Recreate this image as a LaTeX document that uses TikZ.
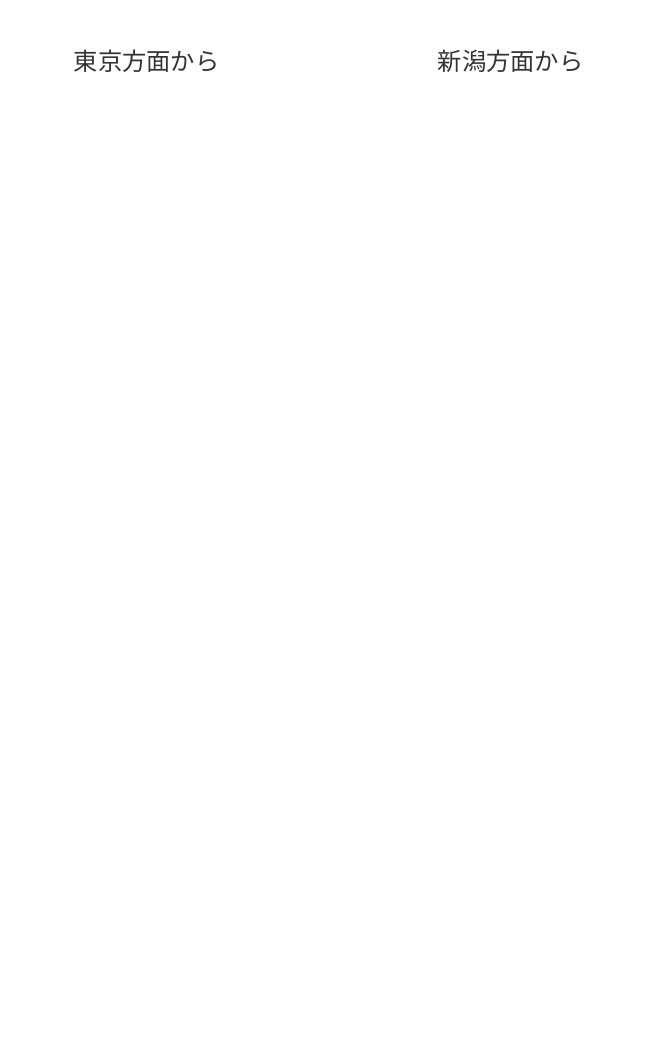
\documentclass[tikz,border=0pt]{standalone}
\usepackage{fontspec}
\newfontfamily\jpfont{Noto Sans CJK JP}[Scale=1]
\begin{document}
\begin{tikzpicture}[x=1pt,y=-1pt,
  lbl/.style={font=\jpfont\fontsize{24.3}{24.3}\selectfont, text=black!80, inner sep=0pt, anchor=west}]
\useasboundingbox (0,0) rectangle (654,1048);
\node[lbl] (tokyo) at (73.5,61) {東京方面から};
\node[lbl] (niigata) at (437.5,61) {新潟方面から};
\end{tikzpicture}
\end{document}
